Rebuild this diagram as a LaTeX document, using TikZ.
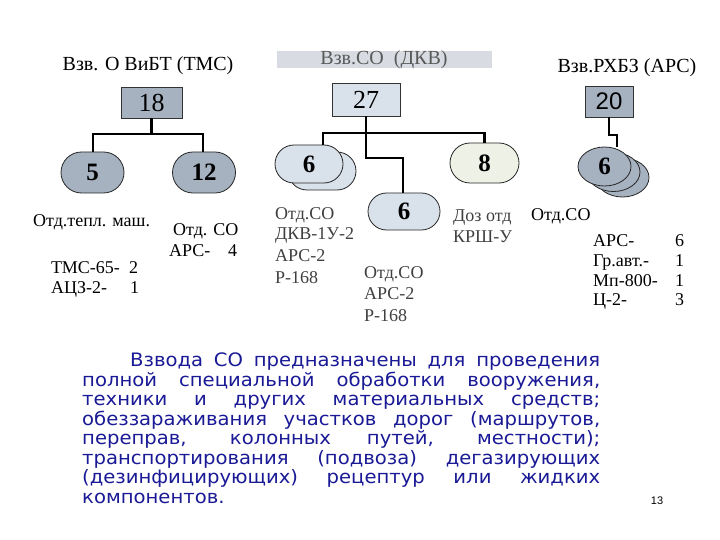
\documentclass[tikz,border=0pt]{standalone}
\usepackage{fontspec}
\setmainfont{Liberation Serif}
\newfontfamily\vfont[FakeStretch=1.06]{DejaVu Sans}
\newfontfamily\afont{Liberation Sans}
\usetikzlibrary{shapes.misc,shapes.geometric}
\definecolor{dk}{HTML}{A7B2C1}
\definecolor{lt}{HTML}{D9E1EA}
\definecolor{gr}{HTML}{EEF1E6}
\definecolor{barc}{HTML}{D8DCE2}
\definecolor{para}{HTML}{1A1A96}
\begin{document}
\begin{tikzpicture}[x=1pt,y=-1pt,
  box/.style={draw=black!80, line width=0.8pt, minimum width=61pt, minimum height=31pt, inner sep=0pt, font=\fontsize{26}{26}\selectfont},
  pill/.style={rounded rectangle, draw=black!85, line width=0.8pt, minimum width=63pt, minimum height=41pt, inner sep=0pt, font=\bfseries\fontsize{25}{25}\selectfont},
  oval/.style={ellipse, draw=black!85, line width=0.8pt, minimum width=53pt, minimum height=39pt, inner sep=0pt, fill=dk, font=\bfseries\fontsize{25}{25}\selectfont},
  conn/.style={line width=2.5pt},
  hdr/.style={inner sep=0pt, font=\fontsize{20}{20}\selectfont},
  lbl/.style={anchor=base west, inner sep=0pt, font=\fontsize{18}{18}\selectfont},
  glbl/.style={lbl, text=black!75},
  pline/.style={anchor=base west, inner sep=0pt, text=para, font=\vfont\fontsize{18.5}{18.5}\selectfont}]
\useasboundingbox (0,0) rectangle (720,540);
\fill[white] (0,0) rectangle (720,540);
% headers
\node[hdr] (h1) at (148,66) {Взв. О ВиБТ (ТМС)};
\node[fill=barc, minimum width=215pt, minimum height=17pt, inner sep=0pt] (h2) at (384,60) {};
\node[hdr, text=black!65] (h2t) at (h2.center) {Взв.СО\ \ (ДКВ)};
\node[hdr] (h3) at (627,68) {Взв.РХБЗ (АРС)};
% boxes
\node[box, fill=dk] (b18) at (151.5,102.5) {18};
\node[box, fill=lt, minimum width=68pt, minimum height=33pt] (b27) at (366,99.5) {27};
\node[box, fill=dk, minimum width=48pt, font=\afont\fontsize{24}{24}\selectfont] (b20) at (609,101.5) {20};
% ellipses left
\node[pill, fill=dk] (e5) at (92.5,172.5) {5};
\node[pill, fill=dk] (e12) at (204,172.5) {12};
% left 6 stacked
\node[pill, fill=lt, minimum width=68pt, minimum height=38pt] (e6b) at (322,171) {};
\node[pill, fill=lt, minimum width=68pt, minimum height=38pt] (e6) at (309,164) {6};
\node[pill, fill=gr, minimum width=69pt, minimum height=40pt] (e8) at (484.5,163) {8};
\node[pill, fill=lt, minimum width=72pt, minimum height=37pt] (e6m) at (404,211.5) {6};
% right 6 stacked
\node[oval] (r3) at (622.5,177.5) {};
\node[oval] (r2) at (613.5,172) {};
\node[oval] (r1) at (604.5,166.5) {6};
% connectors
\coordinate (j18) at (151.5,134);
\draw[conn] (b18.south) -- (j18);
\draw[conn] (e5.north -| 93,0) |- (j18) -| (e12.north -| 203,0);
\coordinate (j27) at (366,133);
\draw[conn] (b27.south) -- (j27);
\draw[conn] (e6.north -| 323,0) |- (j27) -| (e8.north);
\draw[conn] (j27) -- (366,158) -| (e6m.north -| 403,0);
\draw[conn] (b20.south) -- (609,135) -| (r1.north -| 617,0);
% labels (baselines)
\node[lbl] (t1) at (33,226) {Отд.тепл. маш.};
\node[lbl] (t2) at (51,273) {ТМС-65-};
\node[lbl] (t2n) at (129,273) {2};
\node[lbl] (t3) at (51,293) {АЦЗ-2-};
\node[lbl] (t3n) at (130,293) {1};
\node[lbl] (t4) at (173,236) {Отд. СО};
\node[lbl] (t5) at (169,256) {АРС-};
\node[lbl] (t5n) at (228,256) {4};
\node[glbl] (g1) at (275,219) {Отд.СО};
\node[glbl] (g2) at (275,240) {ДКВ-1У-2};
\node[glbl] (g3) at (275,261) {АРС-2};
\node[glbl] (g4) at (275,283) {Р-168};
\node[glbl] (m1) at (364,278) {Отд.СО};
\node[glbl] (m2) at (364,299) {АРС-2};
\node[glbl] (m3) at (364,321) {Р-168};
\node[glbl] (d1) at (453,222) {Доз отд};
\node[glbl] (d2) at (453,243) {КРШ-У};
\node[lbl] (s0) at (531,221) {Отд.СО};
\node[lbl] (s1) at (593,247) {АРС-};
\node[lbl] (s1n) at (675,247) {6};
\node[lbl] (s2) at (593,266) {Гр.авт.-};
\node[lbl] (s2n) at (675,266) {1};
\node[lbl] (s3) at (593,286) {Мп-800-};
\node[lbl] (s3n) at (675,286) {1};
\node[lbl] (s4) at (593,305) {Ц-2-};
\node[lbl] (s4n) at (675,305) {3};
% paragraph (baselines)
\node[pline] (p1) at (130,366) {\makebox[470pt][s]{Взвода СО предназначены для проведения}};
\node[pline] (p2) at (82,386) {\makebox[518pt][s]{полной специальной обработки вооружения,}};
\node[pline] (p3) at (82,405) {\makebox[518pt][s]{техники и других материальных средств;}};
\node[pline] (p4) at (82,425) {\makebox[518pt][s]{обеззараживания участков дорог (маршрутов,}};
\node[pline] (p5) at (82,444) {\makebox[518pt][s]{переправ, колонных путей, местности);}};
\node[pline] (p6) at (82,464) {\makebox[518pt][s]{транспортирования (подвоза) дегазирующих}};
\node[pline] (p7) at (82,483) {\makebox[518pt][s]{(дезинфицирующих) рецептур или жидких}};
\node[pline] (p8) at (82,503) {компонентов.};
\node[inner sep=0pt, font=\afont\fontsize{11}{11}\selectfont] (pg) at (657,501) {13};
\end{tikzpicture}
\end{document}
